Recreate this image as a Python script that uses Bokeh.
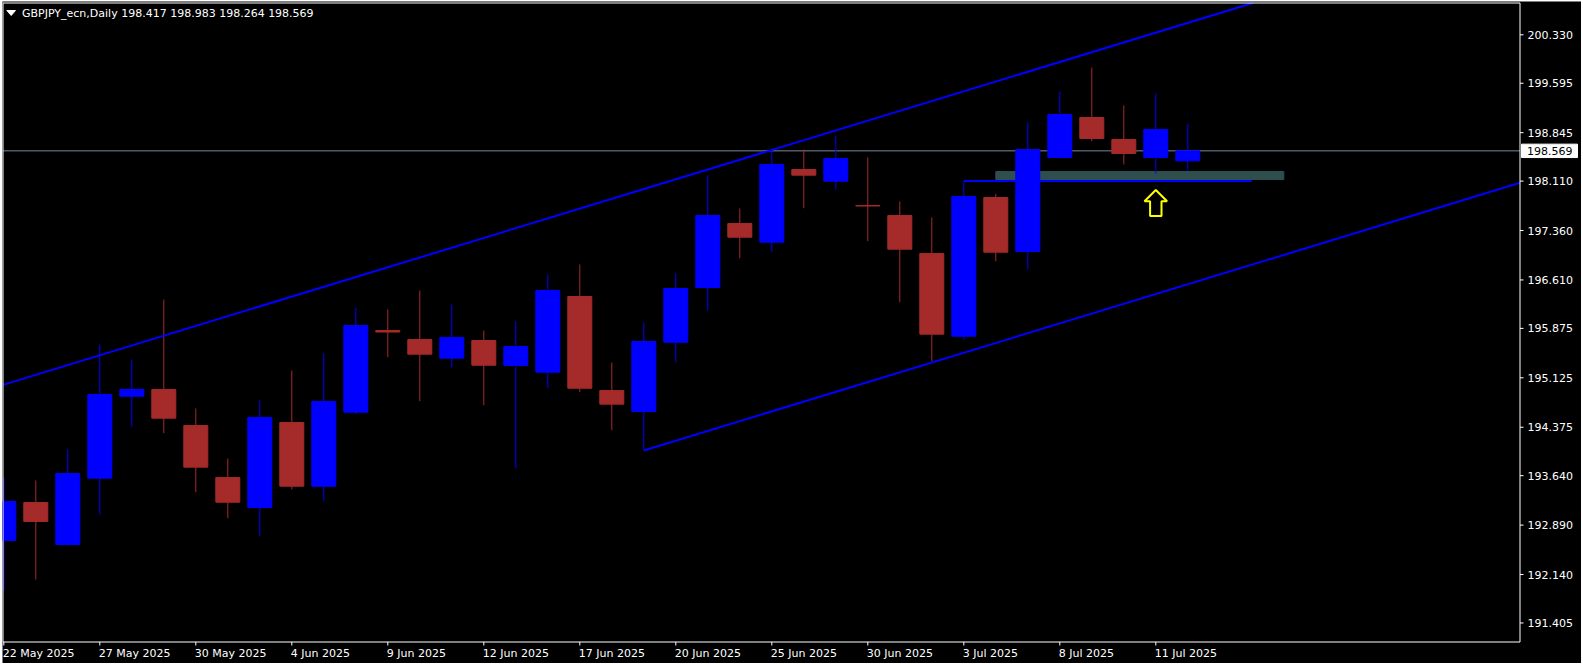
from bokeh.plotting import figure
from bokeh.models import Range1d, ColumnDataSource
from bokeh.core.properties import value
from bokeh.embed import file_html
from bokeh.resources import INLINE

# ---------------- data ----------------
title_text = "GBPJPY_ecn,Daily  198.417 198.983 198.264 198.569"

dates = ["22 May 2025", "23 May 2025", "26 May 2025", "27 May 2025", "28 May 2025", "29 May 2025",
         "30 May 2025", "2 Jun 2025", "3 Jun 2025", "4 Jun 2025", "5 Jun 2025", "6 Jun 2025",
         "9 Jun 2025", "10 Jun 2025", "11 Jun 2025", "12 Jun 2025", "13 Jun 2025", "16 Jun 2025",
         "17 Jun 2025", "18 Jun 2025", "19 Jun 2025", "20 Jun 2025", "23 Jun 2025", "24 Jun 2025",
         "25 Jun 2025", "26 Jun 2025", "27 Jun 2025", "30 Jun 2025", "1 Jul 2025", "2 Jul 2025",
         "3 Jul 2025", "4 Jul 2025", "7 Jul 2025", "8 Jul 2025", "9 Jul 2025", "10 Jul 2025",
         "11 Jul 2025", "14 Jul 2025"]

opens = [192.656, 193.233, 192.596, 193.602, 194.846, 194.948, 194.401, 193.612, 193.157, 194.447,
         193.480, 194.603, 195.843, 195.706, 195.423, 195.691, 195.312, 195.210, 196.359, 194.932,
         194.614, 195.665, 196.495, 197.467, 197.183, 198.286, 198.108, 197.740, 197.588, 197.011,
         195.756, 197.861, 197.042, 198.468, 199.075, 198.741, 198.468, 198.417]
highs = [193.617, 193.567, 194.037, 195.630, 195.403, 196.313, 194.659, 193.901, 194.781, 195.236,
         195.494, 196.192, 196.162, 196.450, 196.237, 195.843, 195.980, 196.693, 196.844, 195.357,
         195.964, 196.708, 198.195, 197.694, 198.597, 198.589, 198.802, 198.468, 197.800, 197.558,
         198.111, 197.917, 198.999, 199.470, 199.834, 199.257, 199.439, 198.983]
lows = [191.898, 192.064, 192.580, 193.051, 194.376, 194.284, 193.389, 192.995, 192.722, 193.430,
        193.253, 194.573, 195.438, 194.770, 195.286, 194.709, 193.753, 194.973, 194.907, 194.330,
        194.022, 195.362, 196.151, 196.940, 197.031, 197.699, 197.978, 197.198, 196.272, 195.373,
        195.702, 196.894, 196.769, 198.460, 198.715, 198.362, 198.225, 198.264]
closes = [193.248, 192.945, 193.673, 194.872, 194.948, 194.512, 193.769, 193.237, 194.523, 193.480,
          194.766, 195.919, 195.820, 195.483, 195.737, 195.316, 195.600, 196.450, 194.967, 194.725,
          195.676, 196.480, 197.588, 197.259, 198.362, 198.200, 198.453, 197.732, 197.077, 195.787,
          197.876, 197.031, 198.589, 199.121, 198.756, 198.529, 198.893, 198.569]

price_ticks = [191.405, 192.140, 192.890, 193.640, 194.375, 195.125, 195.875,
               196.610, 197.360, 198.110, 198.845, 199.595, 200.330]
date_tick_step = 3
current_price = 198.569

# drawn objects (channel, support line, zone, arrow)
channel_start_bar = 20          # lower channel line starts at the 19 Jun low
channel_slope = 0.14835         # price per bar
channel_width = 3.967           # price distance between the two channel lines
support_bars = (30, 39)
support_price = 198.111
zone_bars = (31, 40)
zone_prices = (198.134, 198.256)
arrow_bar = 36
arrow_tip_price = 197.975

# ---------------- layout / pixel scale ----------------
PX_BAR = 32.0          # pixels per bar
PX_PRICE = 65.9        # pixels per price unit
BAR0_PX = 3.3          # page x of the first bar
REF_PRICE, REF_PX = 200.330, 34.3
FIG_LEFT, FIG_TOP = 2, 1
FIG_W, FIG_H = 1579, 662
FRAME_L, FRAME_T, FRAME_R, FRAME_B = 2.5, 2.5, 1519.5, 641.5


def bx(px):
    return (px - BAR0_PX) / PX_BAR


def py(px):
    return REF_PRICE - (px - REF_PX) / PX_PRICE


BULL = "#0000FF"
BEAR = "#A52A2A"
FONT = value("DejaVu Sans")
FS = value("11px")

p = figure(width=FIG_W, height=FIG_H,
           x_range=Range1d(bx(FIG_LEFT), bx(FIG_LEFT + FIG_W)),
           y_range=Range1d(py(FIG_TOP + FIG_H), py(FIG_TOP)),
           output_backend="svg", toolbar_location=None, title=None,
           x_axis_location=None, y_axis_location=None,
           background_fill_color="black", border_fill_color="black", min_border=0)
p.styles = {"margin-left": f"{FIG_LEFT}px", "margin-top": f"{FIG_TOP}px"}
p.outline_line_color = None
p.grid.visible = False

# current price line (behind candles)
p.segment(x0=[bx(FRAME_L)], x1=[bx(FRAME_R)], y0=[current_price], y1=[current_price],
          line_color="#778899", line_width=1)

# zone rectangle
p.quad(left=[zone_bars[0]], right=[zone_bars[1]], bottom=[zone_prices[0]], top=[zone_prices[1]],
       fill_color="#2F4F4F", line_color="#2F4F4F", line_width=1)

# candles
idx = list(range(len(dates)))
colors = [BULL if c >= o else BEAR for o, c in zip(opens, closes)]
src = ColumnDataSource(dict(
    x=idx, o=opens, h=highs, l=lows, c=closes,
    top=[max(o, c) for o, c in zip(opens, closes)],
    bottom=[min(o, c) for o, c in zip(opens, closes)],
    color=colors))
p.segment(x0="x", y0="h", x1="x", y1="l", line_color="color", line_width=1, source=src)
p.vbar(x="x", top="top", bottom="bottom", width=24 / PX_BAR, fill_color="color",
       line_color="color", line_width=1, source=src)

# channel lines (clipped at the chart frame)
low0 = lows[channel_start_bar]


def lower(b):
    return low0 + channel_slope * (b - channel_start_bar)


top_price = py(FRAME_T)
up_l = bx(FRAME_L)
up_r = channel_start_bar + (top_price - low0 - channel_width) / channel_slope
p.line([up_l, up_r], [lower(up_l) + channel_width, lower(up_r) + channel_width],
       line_color=BULL, line_width=2)
lo_r = bx(FRAME_R)
p.line([channel_start_bar, lo_r], [lower(channel_start_bar), lower(lo_r)], line_color=BULL, line_width=2)

# support line from the 3 Jul high
p.line(list(support_bars), [support_price, support_price], line_color=BULL, line_width=2)

# up arrow marker (shape in pixels, anchored at bar / price)
arrow_shape = [(0, 0), (11.3, 11.3), (5.7, 11.3), (5.7, 26), (-5.7, 26), (-5.7, 11.3), (-11.3, 11.3)]
p.patch([arrow_bar + dx / PX_BAR for dx, dy in arrow_shape],
        [arrow_tip_price - dy / PX_PRICE for dx, dy in arrow_shape],
        fill_color="black", line_color="#FFFF00", line_width=2)

# chart frame
p.quad(left=[bx(FRAME_L)], right=[bx(FRAME_R)], top=[py(FRAME_T)], bottom=[py(FRAME_B)],
       fill_color=None, line_color="white", line_width=1)

# price scale (right)
p.segment(x0=[bx(FRAME_R)] * len(price_ticks), x1=[bx(FRAME_R + 3.5)] * len(price_ticks),
          y0=price_ticks, y1=price_ticks, line_color="white", line_width=1)
p.text(x=[bx(1527)] * len(price_ticks), y=price_ticks, text=[f"{t:.3f}" for t in price_ticks],
       text_color="white", text_font=FONT, text_font_size=FS, text_baseline="middle", text_align="left")

# time scale (bottom)
date_idx = list(range(0, len(dates), date_tick_step))
p.segment(x0=date_idx, x1=date_idx, y0=[py(FRAME_B)] * len(date_idx), y1=[py(FRAME_B + 3.5)] * len(date_idx),
          line_color="white", line_width=1)
p.text(x=date_idx, y=[py(652.5)] * len(date_idx), x_offset=-1, text=[dates[i] for i in date_idx],
       text_color="white", text_font=FONT, text_font_size=FS, text_baseline="middle", text_align="left")

# current price tag
tag_half = 6.7 / PX_PRICE
p.quad(left=[bx(1521)], right=[bx(1577)], top=[current_price + tag_half], bottom=[current_price - tag_half],
       fill_color="white", line_color="white")
p.text(x=[bx(1526.5)], y=[current_price], text=[f"{current_price:.3f}"], text_color="black",
       text_font=FONT, text_font_size=FS, text_baseline="middle", text_align="left")

# title triangle and text
p.patch([bx(6.3), bx(15.0), bx(10.7)], [py(10), py(10), py(15)], fill_color="white", line_color="white")
p.text(x=[bx(21.5)], y=[py(12.7)], text=[title_text], text_color="white", text_font=FONT,
       text_font_size=FS, text_baseline="middle", text_align="left")

open("out.html", "w").write(file_html(p, INLINE))
